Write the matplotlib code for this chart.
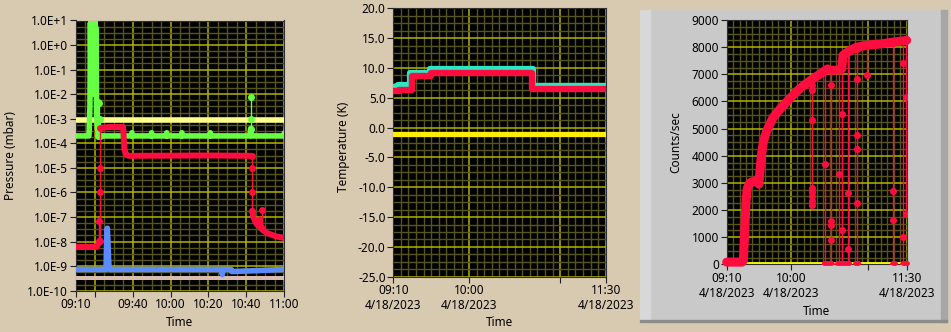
import matplotlib
matplotlib.use("Agg")
import matplotlib.pyplot as plt
import matplotlib.dates as mdates
from matplotlib.patches import Rectangle
from matplotlib.ticker import FixedLocator, NullFormatter
import numpy as np
import pandas as pd

plt.rcParams['font.family'] = ['Noto Sans', 'DejaVu Sans']
plt.rcParams['font.size'] = 8.5

DAY = "2023-04-18 "
def tt(lst):
    return pd.to_datetime([DAY + s for s in lst], format='mixed')

# ---------------- pressure panel (log) ----------------
p_ticks = [1e-10, 1e-9, 1e-8, 1e-7, 1e-6, 1e-5, 1e-4, 1e-3, 1e-2, 1e-1, 1e0, 1e1]
p_ticklabels = ["1.0E-10", "1.0E-9", "1.0E-8", "1.0E-7", "1.0E-6", "1.0E-5",
                "1.0E-4", "1.0E-3", "1.0E-2", "1.0E-1", "1.0E+0", "1.0E+1"]
p_xticks = ["09:10", "09:20", "09:40", "10:00", "10:20", "10:40", "11:00"]
p_xlabels = ["09:10", "", "09:40", "10:00", "10:20", "10:40", "11:00"]

yel_p = 8.5e-4
tan_p = 3.3e-10

green_t = ["09:10", "09:17:00", "09:17:30", "09:17:45", "09:18:00", "09:18:15", "09:18:30",
           "09:18:45", "09:19:00", "09:19:15", "09:19:30", "09:19:45", "09:20:00", "09:20:15",
           "09:20:30", "09:20:45", "09:21:00", "09:21:20", "09:22:00", "09:39:30", "09:39:40",
           "09:39:50", "09:49:50", "09:50:00", "09:50:10", "09:57:50", "09:58:00", "09:58:10",
           "10:05:50", "10:06:00", "10:06:10", "10:20:50", "10:21:00", "10:21:10", "10:41:50",
           "10:42:15", "10:42:40", "10:59:40", "11:00"]
green_v = [2e-4, 2e-4, 3e-3, 8.0, 1e-1, 10.0, 5e-2,
           3.0, 1e-2, 10.0, 1.0, 8.0, 5e-1, 10.0,
           1e-1, 5.0, 1e-3, 5e-4, 2e-4, 2e-4, 2.7e-4,
           2e-4, 2e-4, 2.7e-4, 2e-4, 2e-4, 2.7e-4, 2e-4,
           2e-4, 2.7e-4, 2e-4, 2e-4, 2.7e-4, 2e-4, 2e-4,
           4e-4, 2e-4, 2e-4, 2.6e-4]
green_spike_t = ["09:21:30", "09:22:20", "09:22:50", "10:42:15"]
green_spike_v = [[2e-4, 5e-3], [2e-4, 4.5e-3], [2e-4, 1e-3], [4e-4, 1e-3, 7.8e-3]]

red_p_t = ["09:10", "09:16", "09:21", "09:22", "09:22:40", "09:22:50",
           "09:23:10", "09:28", "09:35", "09:35:40", "09:36:30", "09:38", "10:20", "10:42:50",
           "10:42:55",
           "10:43:10", "10:43:40", "10:44:30", "10:45:30", "10:46:30", "10:47:00", "10:47:30",
           "10:49", "10:51", "10:56", "11:00"]
red_p_v = [6.0e-9, 6.0e-9, 6.0e-9, 8e-9, 1.1e-8, np.nan,
           4.3e-4, 4.6e-4, 4.6e-4, 6e-5, 3.4e-5, 3.1e-5, 3.2e-5, 3.1e-5,
           np.nan,
           1.8e-7, 1.0e-7, 7e-8, 5e-8, 4.5e-8, 8e-8, 3.6e-8,
           2.8e-8, 2.2e-8, 1.6e-8, 1.4e-8]
red_jump_t = ["09:23:00", "09:22:30", "10:42:50", "10:48"]
red_jump_v = [[1.1e-8, 1e-6, 1e-5, 4.3e-4], [7e-8, 1.1e-8], [3.1e-5, 1e-5, 1e-6, 1.8e-7],
              [3.5e-8, 1.9e-7]]

blue_t = ["09:10", "09:26:00", "09:26:20", "09:26:40", "09:27:00", "09:27:20", "09:27:40",
          "09:28", "10:27:00", "10:27:20", "10:27:40", "10:32", "10:32:20", "10:59:30", "11:00"]
blue_v = [7.3e-10, 7.3e-10, 1e-8, 3.5e-8, 1e-8, 2e-9, 8e-10,
          7.3e-10, 7.3e-10, 4.5e-10, 7.3e-10, 7.3e-10, 6e-10, 7.3e-10, 7.3e-10]

# ---------------- temperature panel ----------------
t_ticks = [-25, -20, -15, -10, -5, 0, 5, 10, 15, 20]
t_ticklabels = ["-25.0", "-20.0", "-15.0", "-10.0", "-5.0", "0.0", "5.0", "10.0", "15.0", "20.0"]
wide_xticks = ["09:10", "10:00", "11:00", "11:30"]
wide_xlabels = ["09:10\n4/18/2023", "10:00\n4/18/2023", "", "11:30\n4/18/2023"]

yel_t = -1.1
cyan_t = ["09:10", "09:13", "09:21", "09:34", "10:42", "11:30"]
cyan_v = [6.8, 7.1, 9.2, 9.75, 6.95, 6.95]
redT_t = ["09:10", "09:14", "09:22", "09:35", "10:41:30", "11:30"]
redT_v = [6.2, 6.3, 8.6, 9.1, 6.45, 6.45]

# ---------------- counts panel ----------------
c_ticks = [0, 1000, 2000, 3000, 4000, 5000, 6000, 7000, 8000, 9000]
c_ticklabels = [str(v) for v in c_ticks]

cps_t = ["09:10", "09:22", "09:23", "09:24", "09:25", "09:26", "09:28", "09:33", "09:35",
         "09:36", "09:37", "09:38:30", "09:41", "09:46", "09:52", "09:57", "10:02", "10:07",
         "10:13", "10:19", "10:24", "10:28:30", "10:29:30", "10:30:30", "10:35", "10:39:30",
         "10:40:30", "10:45", "10:51", "11:01", "11:10", "11:22", "11:30"]
cps_v = [80, 80, 150, 1200, 2300, 2800, 3000, 3100, 2950,
         3500, 4000, 4500, 4900, 5400, 5750, 6000, 6250, 6480,
         6700, 6900, 7050, 7200, np.nan, 7150, 7150, 7200,
         7700, 7850, 8000, 8080, 8120, 8200, 8250]
drop_t = ["10:16", "10:26:30", "10:31", "10:37:30", "10:40", "10:44", "10:51", "10:59:30",
          "11:19:30", "11:27:30", "11:29:50"]
drop_v = [[6600, 6420, 5320, 2800, 2650, 2500, 2350, 2200],
          [7150, 3700, 0],
          [7150, 6600, 1600, 1450, 900, 0],
          [7150, 3330, 0],
          [7700, 5520, 1260, 0],
          [7850, 2640, 550, 0],
          [7950, 6830, 4760, 4250, 2270, 0],
          [8050, 6970],
          [8150, 2700, 1630, 0],
          [8250, 7430, 1020, 0],
          [8250, 6150, 1850]]
floor_start = ["10:25:30", "10:36", "10:49:30", "11:19", "11:27"]
floor_end = ["10:31", "10:45", "10:52", "11:21", "11:30"]
floor_v = 40
yel_c = 60

# ---------------- styling ----------------
BG = '#D8C9B1'
RED = '#FF0D3F'
GREEN = '#66FF44'
BLUE = '#5B8CFF'
CYAN = '#2EE6C4'
MAJ = '#B4B400'
MIN = '#55551C'

fig = plt.figure(figsize=(9.51, 3.32), dpi=100)
fig.patch.set_facecolor(BG)

# gray frame behind the counts graph
W, H = 951., 332.
def px_rect(x0, y0, x1, y1, color):
    fig.patches.append(Rectangle((x0 / W, 1 - y1 / H), (x1 - x0) / W, (y1 - y0) / H,
                                 transform=fig.transFigure, color=color, zorder=-5))
px_rect(640, 10, 947, 322, '#C9C9C9')
px_rect(640, 10, 650, 322, '#D8D8D8')
px_rect(941, 10, 947, 322, '#A6A6A6')
px_rect(640, 320, 947, 322, '#8C8C8C')

def axes_px(x0, y0, x1, y1):
    return fig.add_axes([x0 / W, 1 - y1 / H, (x1 - x0) / W, (y1 - y0) / H])

def style(ax):
    ax.set_facecolor('black')
    ax.set_axisbelow(True)
    ax.grid(which='minor', color=MIN, lw=1.0)
    ax.grid(which='major', color=MAJ, lw=1.1)
    ax.tick_params(which='major', length=4, width=0.8, pad=1.5, color='#202020')
    ax.tick_params(which='minor', length=0)
    for s in ax.spines.values():
        s.set_color('#303030')
        s.set_linewidth(0.8)

def thick(ax, t, v, color, lw):
    ax.plot(tt(t), v, color=color, lw=lw, solid_capstyle='round',
            solid_joinstyle='round', zorder=3)

def spikes(ax, ts, vs, color):
    for t, v in zip(ts, vs):
        ax.plot(tt([t] * len(v)), v, color=color, lw=1.0, marker='o', ms=4,
                mec=color, zorder=4)

# ---- panel 1 ----
ax1 = axes_px(75.7, 20.5, 284.3, 290.7)
ax1.set_yscale('log')
ax1.set_xlim(tt(["09:10", "11:00"]))
style(ax1)
ax1.yaxis.set_major_locator(FixedLocator(p_ticks))
ax1.set_yticklabels(p_ticklabels)
ax1.yaxis.set_minor_locator(FixedLocator([10 ** (e + k / 4.) for e in range(-10, 1) for k in (1, 2, 3)]))
ax1.yaxis.set_minor_formatter(NullFormatter())
ax1.set_xticks(tt(p_xticks))
ax1.set_xticklabels(p_xlabels)
ax1.xaxis.set_minor_locator(mdates.MinuteLocator(byminute=range(0, 60, 5)))

ax1.axhspan(tan_p / 1.25, tan_p * 1.25, color='#D9BBB0', lw=0, zorder=3)
ax1.axhline(yel_p, color='#FFFF8C', lw=4.0, zorder=3)
thick(ax1, blue_t, blue_v, BLUE, 4.0)
thick(ax1, green_t, green_v, GREEN, 4.0)
spikes(ax1, green_spike_t, green_spike_v, GREEN)
thick(ax1, red_p_t, red_p_v, RED, 4.3)
spikes(ax1, red_jump_t, red_jump_v, RED)
ax1.set_ylim(1e-10, 1e1)
ax1.set_ylabel("Pressure (mbar)")
ax1.yaxis.set_label_coords(-0.28, 0.5)
ax1.set_xlabel("Time")
ax1.xaxis.set_label_coords(0.5, -0.093)

# ---- panel 2 ----
ax2 = axes_px(393.3, 8.3, 605.7, 276.7)
ax2.set_ylim(-25, 20)
ax2.set_xlim(tt(["09:10", "11:30"]))
style(ax2)
ax2.set_yticks(t_ticks)
ax2.set_yticklabels(t_ticklabels)
ax2.yaxis.set_minor_locator(FixedLocator(np.arange(-25, 20.01, 1.25)))
ax2.set_xticks(tt(wide_xticks))
ax2.set_xticklabels(wide_xlabels)
ax2.xaxis.set_minor_locator(mdates.MinuteLocator(byminute=range(0, 60, 5)))
ax2.axhline(yel_t, color='#FFEE00', lw=3.8, zorder=3)
ax2.plot(tt(cyan_t), cyan_v, color=CYAN, lw=4.5, drawstyle='steps-post', zorder=3)
ax2.plot(tt(redT_t), redT_v, color=RED, lw=4.6, drawstyle='steps-post', zorder=4)
ax2.set_ylabel("Temperature (K)")
ax2.yaxis.set_label_coords(-0.205, 0.484)
ax2.set_xlabel("Time")
ax2.xaxis.set_label_coords(0.5, -0.148)

# ---- panel 3 ----
ax3 = axes_px(726.7, 20.0, 906.7, 264.3)
ax3.set_ylim(0, 9000)
ax3.set_xlim(tt(["09:10", "11:30"]))
style(ax3)
ax3.set_yticks(c_ticks)
ax3.set_yticklabels(c_ticklabels)
ax3.yaxis.set_minor_locator(FixedLocator(np.arange(0, 9001, 250)))
ax3.set_xticks(tt(wide_xticks))
ax3.set_xticklabels(wide_xlabels)
ax3.xaxis.set_minor_locator(mdates.MinuteLocator(byminute=range(0, 60, 5)))
ax3.axhline(yel_c, color='#FFFF00', lw=1.3, zorder=3)
ax3.plot(tt(cps_t), cps_v, color=RED, lw=6.5, solid_capstyle='round',
         solid_joinstyle='round', zorder=4, clip_on=False)
spikes(ax3, drop_t, drop_v, RED)
for a, b in zip(floor_start, floor_end):
    ax3.plot(tt([a, b]), [floor_v, floor_v], color=RED, lw=3.5, zorder=4,
             solid_capstyle='round', clip_on=False)
ax3.set_ylabel("Counts/sec")
ax3.yaxis.set_label_coords(-0.245, 0.5)
ax3.set_xlabel("Time")
ax3.xaxis.set_label_coords(0.5, -0.168)

fig.savefig("out.png", dpi=100, facecolor=fig.get_facecolor())
